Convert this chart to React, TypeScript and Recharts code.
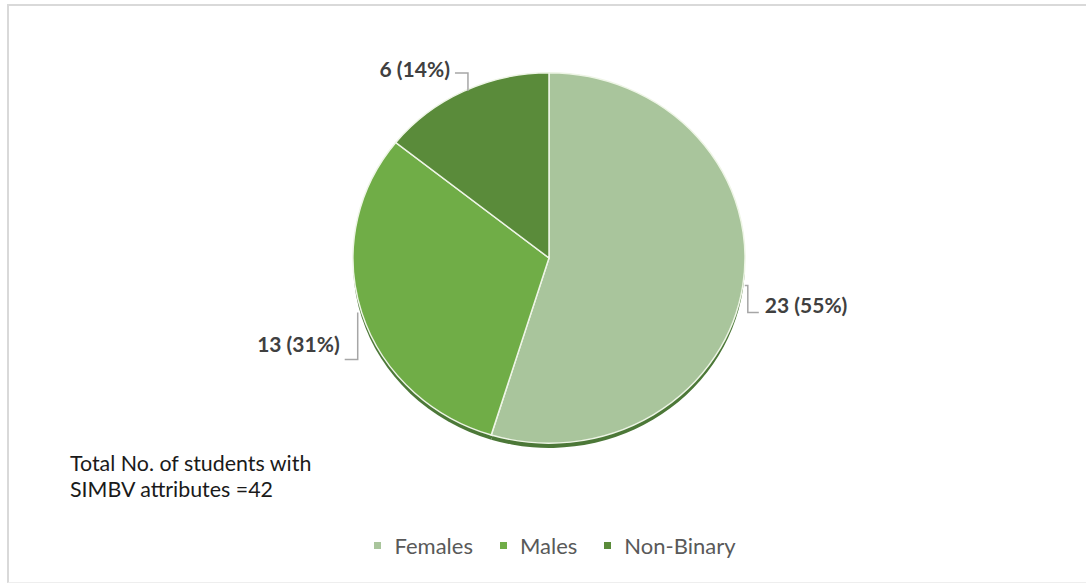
import { PieChart, Pie, Cell, Legend } from "recharts";

const categories = ["Females", "Males", "Non-Binary"];
const counts = [23, 13, 6];
const colors = ["#a9c59c", "#70ad47", "#5a8b3a"];

const data = categories.map((name, i) => ({ name, value: counts[i] }));

const RADIAN = Math.PI / 180;
const CX = 549;
const CY = 258;
const R = 196;
const SQUISH = 0.945;

// elbow leader lines, relative to the slice's edge point
const renderLabel = ({ midAngle, value, percent, index }: any) => {
  const ex = CX + R * Math.cos(-midAngle * RADIAN);
  const ey = CY + R * SQUISH * Math.sin(-midAngle * RADIAN);
  const text = `${value} (${Math.round(percent * 100)}%)`;

  let path = "";
  let tx = 0;
  let ty = 0;
  let anchor: "start" | "end" = "start";
  if (index === 0) {
    path = `M${ex + 2},${ey} H${ex + 5} V${ey + 27} H${ex + 16}`;
    tx = ex + 22;
    ty = ey + 27;
  } else if (index === 1) {
    path = `M${ex - 4},${ey} V${ey + 47} H${ex - 17}`;
    tx = ex - 22;
    ty = ey + 39;
    anchor = "end";
  } else {
    path = `M${ex + 4},${ey} V${ey - 18} H${ex - 9}`;
    tx = ex - 14;
    ty = ey - 14;
    anchor = "end";
  }

  return (
    <g>
      <path d={path} stroke="#a6a6a6" strokeWidth={1.5} fill="none" />
      <text
        x={tx}
        y={ty}
        textAnchor={anchor}
        fill="#404040"
        fontSize={21}
        fontWeight="bold"
        fontFamily="Lato"
      >
        {text}
      </text>
    </g>
  );
};

const renderLegend = ({ payload }: any) => {
  const items: any[] = [];
  (payload || []).forEach((entry: any) => {
    if (categories.includes(entry.value) && !items.some((e) => e.value === entry.value)) {
      items.push(entry);
    }
  });
  return (
    <div
      style={{
        display: "flex",
        justifyContent: "center",
        paddingLeft: 24,
        fontFamily: "Lato",
        fontSize: 22,
        color: "#595959",
      }}
    >
      {items.map((entry: any, i: number) => (
        <div
          key={`leg-${i}`}
          style={{ display: "flex", alignItems: "center", marginRight: i < items.length - 1 ? 27 : 0 }}
        >
          <span
            style={{
              display: "inline-block",
              width: 7,
              height: 7,
              background: colors[categories.indexOf(entry.value)],
              marginRight: 13,
            }}
          />
          <span>{entry.value}</span>
        </div>
      ))}
    </div>
  );
};

export default function App() {
  return (
    <div style={{ position: "absolute", left: 0, top: 0, width: 1086, height: 585, background: "#fff" }}>
      <style>{`.recharts-sector { transform: scaleY(${SQUISH}); transform-origin: ${CX}px ${CY}px; }`}</style>
      <div
        style={{
          position: "absolute",
          left: 7,
          top: 4,
          width: 1079,
          height: 579,
          borderTop: "2px solid #d9d9d9",
          borderLeft: "2px solid #d9d9d9",
          borderBottom: "1px solid #eeeeee",
          boxSizing: "border-box",
        }}
      />
      <PieChart
        width={1086}
        height={585}
        margin={{ top: 0, right: 0, bottom: 0, left: 0 }}
        style={{ position: "absolute", left: 0, top: 0 }}
      >
        <Pie
          data={data}
          dataKey="value"
          nameKey="name"
          cx={CX}
          cy={CY + 5}
          outerRadius={R}
          startAngle={90}
          endAngle={-270}
          fill="#4c7838"
          stroke="none"
          legendType="none"
          isAnimationActive={false}
        />
        <Pie
          data={data}
          dataKey="value"
          nameKey="name"
          cx={CX}
          cy={CY}
          outerRadius={R}
          startAngle={90}
          endAngle={-270}
          stroke="#eef5e6"
          strokeWidth={1.5}
          label={renderLabel}
          labelLine={false}
          isAnimationActive={false}
        >
          {data.map((entry, index) => (
            <Cell key={`cell-${index}`} fill={colors[index]} />
          ))}
        </Pie>
        <Legend content={renderLegend} wrapperStyle={{ top: 532, left: 0, width: 1086 }} />
      </PieChart>
      <div
        style={{
          position: "absolute",
          left: 70,
          top: 450,
          fontFamily: "Lato",
          fontSize: 21.4,
          lineHeight: "26px",
          color: "#1a1a1a",
        }}
      >
        Total No. of students with
        <br />
        SIMBV attributes =42
      </div>
    </div>
  );
}
